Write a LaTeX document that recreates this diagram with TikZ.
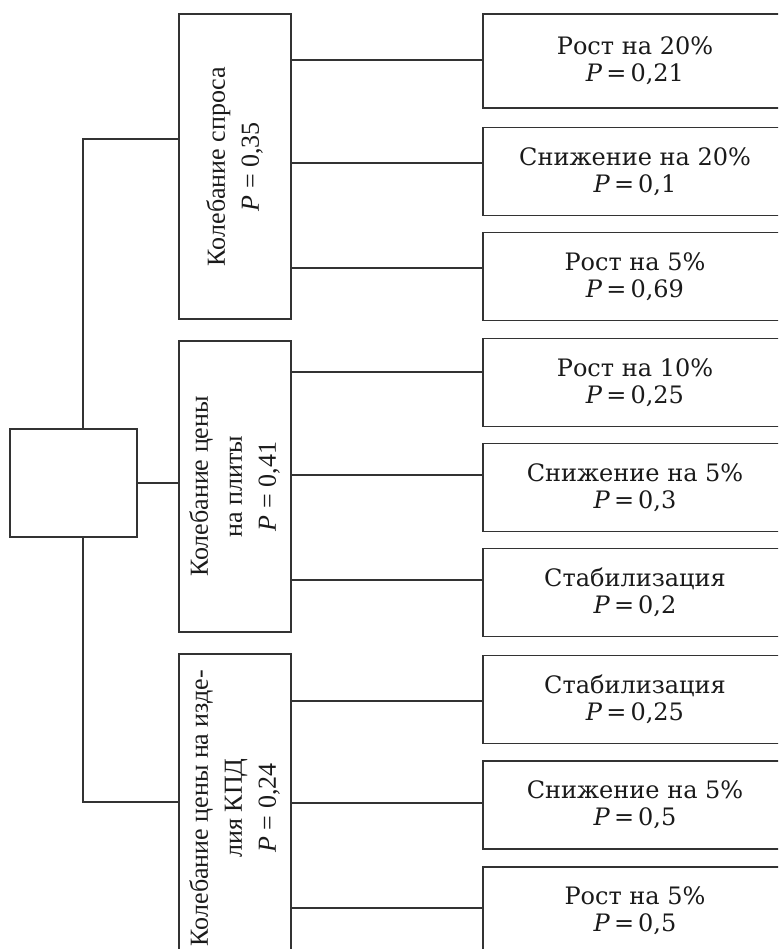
\documentclass[tikz,border=0pt]{standalone}
\usepackage{fontspec}
\usepackage{graphicx}
\usepackage{tikz}
\setmainfont{Liberation Serif}
\newfontfamily\boxfont{DejaVu Serif}
\definecolor{colorLine}{HTML}{333333}
\definecolor{colorText}{HTML}{1A1A1A}
\newcommand{\vtext}[1]{\rotatebox{90}{\begin{tabular}{@{}c@{}}#1\end{tabular}}}

\begin{document}
\begin{tikzpicture}[x=1pt, y=-1pt,
        box/.style={draw=colorLine, line width=1.6pt, rectangle, inner sep=0pt, text=colorText},
        vert/.style={box, minimum width=112pt, font=\fontsize{26}{34}\selectfont},
        outcome/.style={box, minimum width=304pt, minimum height=88pt, align=center, font=\boxfont\fontsize{24}{27}\selectfont},
        link/.style={draw=colorLine, line width=1.1pt}]
        \useasboundingbox (0,0) rectangle (778,949);
        \clip (0,0) rectangle (778,949);
        \node[box, minimum width=127pt, minimum height=108pt] (root) at (73.5,483) {};
        \node[vert, minimum height=305pt] (m1) at (235,166.5) {\vtext{Колебание спроса\\\textit{P} = 0,35}};
        \node[vert, minimum height=291pt] (m2) at (235,486.5) {\vtext{Колебание цены\\на плиты\\\textit{P} = 0,41}};
        \node[vert, minimum height=308pt] (m3) at (235,808) {\vtext{Колебание цены на изде-\\лия КПД\\\textit{P} = 0,24}};
        \node[outcome, minimum height=94pt] (r1) at (635,61) {Рост на 20\%\\\textit{P}\,=\,0,21};
        \node[outcome] (r2) at (635,171.5) {Снижение на 20\%\\\textit{P}\,=\,0,1};
        \node[outcome] (r3) at (635,276.5) {Рост на 5\%\\\textit{P}\,=\,0,69};
        \node[outcome] (r4) at (635,382.5) {Рост на 10\%\\\textit{P}\,=\,0,25};
        \node[outcome] (r5) at (635,487.5) {Снижение на 5\%\\\textit{P}\,=\,0,3};
        \node[outcome] (r6) at (635,592.5) {Стабилизация\\\textit{P}\,=\,0,2};
        \node[outcome] (r7) at (635,699.5) {Стабилизация\\\textit{P}\,=\,0,25};
        \node[outcome] (r8) at (635,805) {Снижение на 5\%\\\textit{P}\,=\,0,5};
        \node[outcome] (r9) at (635,911) {Рост на 5\%\\\textit{P}\,=\,0,5};
        % trunk
        \draw[link] ([yshift=27.5]m1.west) -| ([xshift=9.5]root.north);
        \draw[link] ([yshift=6]m3.west) -| ([xshift=9.5]root.south);
        \draw[link] (root.east) -- (root.east -| m2.west);
        % outcomes
        \coordinate (c1) at ([yshift=1]r1.west);
        \coordinate (c2) at ([yshift=8.5]r2.west);
        \coordinate (c3) at ([yshift=8.5]r3.west);
        \coordinate (c4) at ([yshift=10.5]r4.west);
        \coordinate (c5) at ([yshift=12.5]r5.west);
        \coordinate (c6) at ([yshift=12.5]r6.west);
        \coordinate (c7) at ([yshift=-1.5]r7.west);
        \coordinate (c8) at ([yshift=2]r8.west);
        \coordinate (c9) at ([yshift=3]r9.west);
        \draw[link] (c1) -- (c1 -| m1.east);
        \draw[link] (c2) -- (c2 -| m1.east);
        \draw[link] (c3) -- (c3 -| m1.east);
        \draw[link] (c4) -- (c4 -| m2.east);
        \draw[link] (c5) -- (c5 -| m2.east);
        \draw[link] (c6) -- (c6 -| m2.east);
        \draw[link] (c7) -- (c7 -| m3.east);
        \draw[link] (c8) -- (c8 -| m3.east);
        \draw[link] (c9) -- (c9 -| m3.east);
    \end{tikzpicture}
\end{document}
